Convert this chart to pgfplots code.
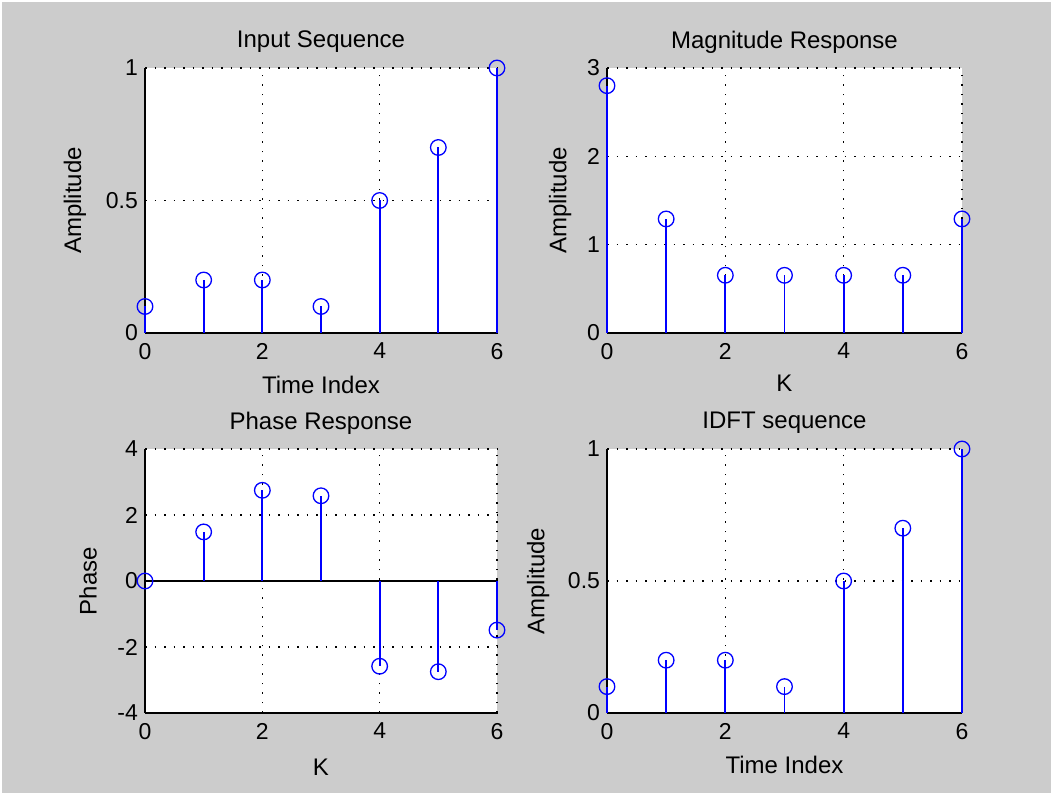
\documentclass[border=0pt]{standalone}
\usepackage{pgfplots}
\pgfplotsset{compat=1.18}
\usepackage{fontspec}
\setmainfont{Liberation Sans}
\definecolor{figgray}{RGB}{204,204,204}
\pgfplotsset{
  every axis title shift=0pt,
  mstyle/.style={
    scale only axis, width=176pt, height=132.5pt,
    anchor=south west,
    axis x line*=bottom, axis y line*=left,
    axis line style={black, line width=0.6pt, -},
    xmin=0, xmax=6, xtick={0,2,4,6},
    grid=major,
    grid style={black, line width=0.75pt, dash pattern=on 0.75pt off 4pt},
    major tick length=0pt,
    tick label style={font=\fontsize{11.5}{13}\selectfont},
    xticklabel style={yshift=-1.5pt},
    label style={font=\fontsize{12}{14}\selectfont},
    title style={font=\fontsize{12}{14}\selectfont, at={(axis description cs:0.5,1)}, anchor=center, yshift=13pt},
    /pgf/number format/assume math mode=true,
    axis background/.style={fill=white},
    clip=false,
  },
  stem/.style={blue, line width=0.9pt, ycomb, mark=o, mark size=3.9pt, mark options={solid, line width=0.65pt}},
}
\begin{document}
\begin{tikzpicture}
\useasboundingbox (0,0) rectangle (525.5pt,396.5pt);
\fill[white] (0,0) rectangle (525.5pt,396.5pt);
\fill[figgray] (1pt,0) rectangle (525.5pt,395.5pt);

% Input sequence
\begin{axis}[mstyle, at={(72.5pt,230pt)},
  ymin=0, ymax=1, ytick={0,0.5,1},
  title={Input Sequence}, xlabel={Time Index}, ylabel={Amplitude},
  xlabel style={at={(axis description cs:0.5,0)}, anchor=center, yshift=-26pt},
  ylabel style={at={(axis description cs:-0.199,0.5)}, anchor=center}]
\addplot[stem] coordinates {(0,0.1) (1,0.2) (2,0.2) (3,0.1) (4,0.5) (5,0.7) (6,1)};
\end{axis}

% Magnitude response
\begin{axis}[mstyle, at={(303.5pt,230pt)}, width=177.5pt,
  ymin=0, ymax=3, ytick={0,1,2,3},
  title={Magnitude Response}, xlabel={K}, ylabel={Amplitude},
  xlabel style={at={(axis description cs:0.5,0)}, anchor=center, yshift=-25pt},
  ylabel style={at={(axis description cs:-0.132,0.5)}, anchor=center}]
\addplot[stem] coordinates {(0,2.8) (1,1.2910) (2,0.6536) (3,0.6529) (4,0.6529) (5,0.6536) (6,1.2910)};
\end{axis}

% Phase response
\begin{axis}[mstyle, at={(72.5pt,40pt)}, height=132pt,
  ymin=-4, ymax=4, ytick={-4,-2,0,2,4},
  title={Phase Response}, xlabel={K}, ylabel={Phase},
  xlabel style={at={(axis description cs:0.5,0)}, anchor=center, yshift=-27pt},
  ylabel style={at={(axis description cs:-0.162,0.5)}, anchor=center}]
\addplot[black, line width=0.6pt] coordinates {(0,0) (6,0)};
\addplot[stem] coordinates {(0,0) (1,1.4875) (2,2.7486) (3,2.5827) (4,-2.5827) (5,-2.7486) (6,-1.4875)};
\end{axis}

% IDFT sequence
\begin{axis}[mstyle, at={(303.5pt,40pt)}, width=177.5pt, height=132pt,
  ymin=0, ymax=1, ytick={0,0.5,1},
  title={IDFT sequence}, xlabel={Time Index}, ylabel={Amplitude},
  xlabel style={at={(axis description cs:0.5,0)}, anchor=center, yshift=-26pt},
  ylabel style={at={(axis description cs:-0.194,0.5)}, anchor=center}]
\addplot[stem] coordinates {(0,0.1) (1,0.2) (2,0.2) (3,0.1) (4,0.5) (5,0.7) (6,1)};
\end{axis}
\end{tikzpicture}
\end{document}
